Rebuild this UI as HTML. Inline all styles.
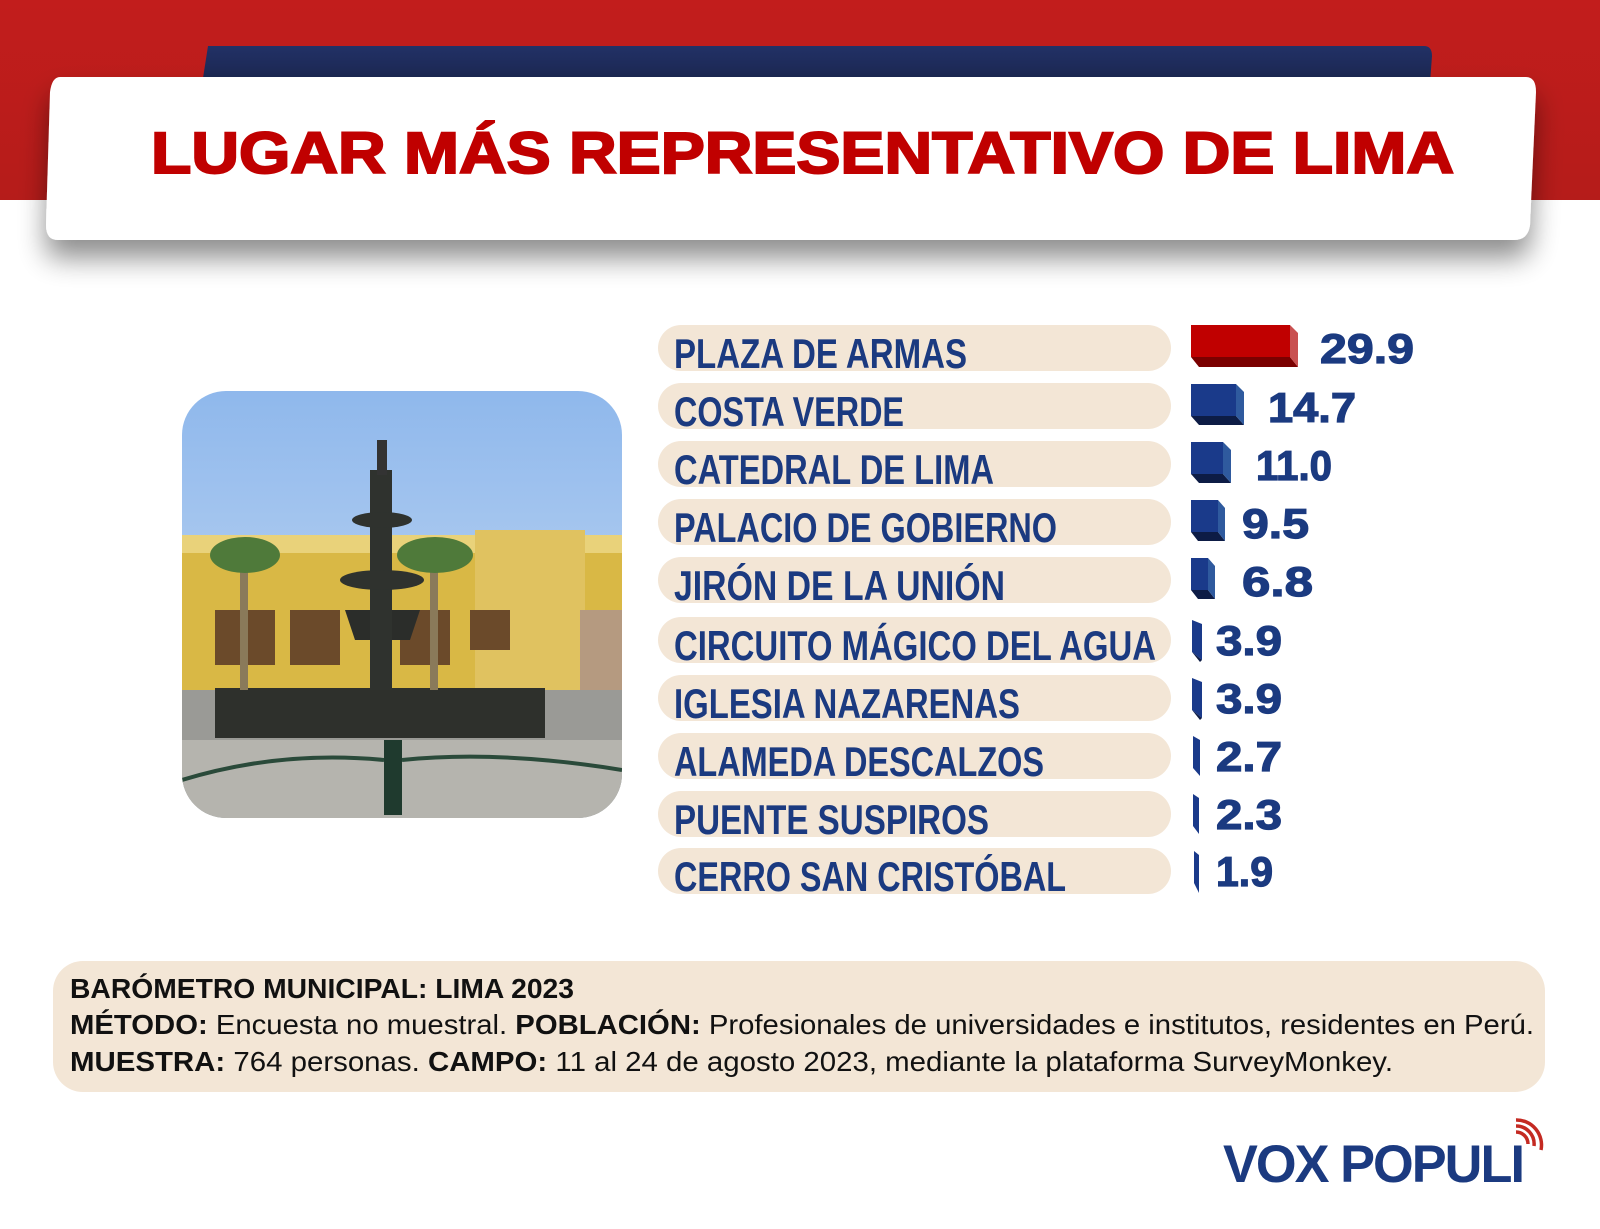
<!DOCTYPE html>
<html><head><meta charset="utf-8"><style>
html,body{margin:0;padding:0;background:#fff}
svg{display:block}
</style></head><body>
<svg width="1600" height="1229" viewBox="0 0 1600 1229" xmlns="http://www.w3.org/2000/svg" font-family="Liberation Sans, sans-serif">
<defs>
<linearGradient id="red" x1="0" y1="0" x2="0" y2="1"><stop offset="0" stop-color="#c21d1c"/><stop offset="1" stop-color="#b51c1a"/></linearGradient>
<linearGradient id="navy" x1="0" y1="0" x2="0" y2="1"><stop offset="0" stop-color="#223166"/><stop offset="1" stop-color="#141d3e"/></linearGradient>
<linearGradient id="sky" x1="0" y1="0" x2="0" y2="1"><stop offset="0" stop-color="#8fb8ec"/><stop offset="1" stop-color="#cfe0f4"/></linearGradient>
<filter id="sh" x="-10%" y="-30%" width="120%" height="190%"><feGaussianBlur in="SourceAlpha" stdDeviation="14"/><feOffset dy="18"/><feComponentTransfer><feFuncA type="linear" slope="0.45"/></feComponentTransfer><feMerge><feMergeNode/><feMergeNode in="SourceGraphic"/></feMerge></filter>
<clipPath id="ph"><rect x="182" y="391" width="440" height="427" rx="44"/></clipPath>
</defs>
<rect x="0" y="0" width="1600" height="200" fill="url(#red)"/>
<path d="M208 46 L1424 46 Q1432 46 1432 56 L1428 110 L198 110 Z" fill="url(#navy)"/>
<path d="M60 77 L1526 77 Q1536 77 1536 92 L1530 225 Q1528 240 1514 240 L58 240 Q46 240 46 225 L50 92 Q52 77 60 77 Z" fill="#fff" filter="url(#sh)"/>
<text x="151" y="173" font-size="58" font-weight="bold" fill="#c00000" stroke="#c00000" stroke-width="2" textLength="1303" lengthAdjust="spacingAndGlyphs">LUGAR MÁS REPRESENTATIVO DE LIMA</text>

<g clip-path="url(#ph)">
<rect x="182" y="391" width="440" height="427" fill="url(#sky)"/>
<rect x="182" y="535" width="440" height="160" fill="#d9b845"/>
<rect x="182" y="535" width="440" height="18" fill="#e9d27a"/>
<rect x="475" y="530" width="110" height="165" fill="#e0c260"/>
<rect x="580" y="610" width="42" height="85" fill="#b59a80"/>
<g fill="#6b4a2a"><rect x="215" y="610" width="60" height="55"/><rect x="290" y="610" width="50" height="55"/><rect x="400" y="610" width="50" height="55"/><rect x="470" y="610" width="40" height="40"/></g>
<rect x="182" y="690" width="440" height="128" fill="#9a9a96"/>
<rect x="182" y="740" width="440" height="78" fill="#b5b4ae"/>
<rect x="215" y="688" width="330" height="50" fill="#2e302c"/>
<path d="M345 610 L420 610 L410 640 L355 640 Z" fill="#2b2d2a"/>
<rect x="370" y="470" width="22" height="220" fill="#2f322e"/>
<ellipse cx="382" cy="520" rx="30" ry="8" fill="#2f322e"/>
<ellipse cx="382" cy="580" rx="42" ry="10" fill="#2f322e"/>
<rect x="377" y="440" width="10" height="35" fill="#333"/>
<rect x="240" y="560" width="8" height="130" fill="#8a7a5a"/><ellipse cx="245" cy="555" rx="35" ry="18" fill="#4f7a3a"/>
<rect x="430" y="560" width="8" height="130" fill="#8a7a5a"/><ellipse cx="435" cy="555" rx="38" ry="18" fill="#4f7a3a"/>
<rect x="384" y="740" width="18" height="75" fill="#1f3a2e"/>
<path d="M182 780 Q280 750 384 760 M402 760 Q500 750 622 770" stroke="#2a4a3a" stroke-width="4" fill="none"/>
</g>

<g font-weight="bold" fill="#1b3a80">
<g fill="#f3e6d6">
<rect x="658" y="325" width="513" height="46" rx="23"/>
<rect x="658" y="383" width="513" height="46" rx="23"/>
<rect x="658" y="441" width="513" height="46" rx="23"/>
<rect x="658" y="499" width="513" height="46" rx="23"/>
<rect x="658" y="557" width="513" height="46" rx="23"/>
<rect x="658" y="617" width="513" height="46" rx="23"/>
<rect x="658" y="675" width="513" height="46" rx="23"/>
<rect x="658" y="733" width="513" height="46" rx="23"/>
<rect x="658" y="791" width="513" height="46" rx="23"/>
<rect x="658" y="848" width="513" height="46" rx="23"/>
</g>
<g font-size="42">
<text x="674" y="368" textLength="293" lengthAdjust="spacingAndGlyphs">PLAZA DE ARMAS</text>
<text x="674" y="426" textLength="230" lengthAdjust="spacingAndGlyphs">COSTA VERDE</text>
<text x="674" y="484" textLength="320" lengthAdjust="spacingAndGlyphs">CATEDRAL DE LIMA</text>
<text x="674" y="542" textLength="383" lengthAdjust="spacingAndGlyphs">PALACIO DE GOBIERNO</text>
<text x="674" y="600" textLength="331" lengthAdjust="spacingAndGlyphs">JIRÓN DE LA UNIÓN</text>
<text x="674" y="660" textLength="482" lengthAdjust="spacingAndGlyphs">CIRCUITO MÁGICO DEL AGUA</text>
<text x="674" y="718" textLength="346" lengthAdjust="spacingAndGlyphs">IGLESIA NAZARENAS</text>
<text x="674" y="776" textLength="370" lengthAdjust="spacingAndGlyphs">ALAMEDA DESCALZOS</text>
<text x="674" y="834" textLength="315" lengthAdjust="spacingAndGlyphs">PUENTE SUSPIROS</text>
<text x="674" y="891" textLength="392" lengthAdjust="spacingAndGlyphs">CERRO SAN CRISTÓBAL</text>
</g>
</g>

<g>
<rect x="1191" y="325" width="99" height="32" fill="#c00000"/>
<path d="M1191 357 L1290 357 L1298 367 L1199 367 Z" fill="#7a0000"/>
<path d="M1290 325 L1298 333 L1298 367 L1290 357 Z" fill="#c95050"/>
</g>
<g>
<rect x="1191" y="384" width="45" height="32" fill="#1a3a8a"/><path d="M1191 416 L1236 416 L1244 425 L1199 425 Z" fill="#0d1c45"/><path d="M1236 384 L1244 392 L1244 425 L1236 416 Z" fill="#2f5a9e"/>
<rect x="1191" y="442" width="32" height="32" fill="#1a3a8a"/><path d="M1191 474 L1223 474 L1231 483 L1199 483 Z" fill="#0d1c45"/><path d="M1223 442 L1231 450 L1231 483 L1223 474 Z" fill="#2f5a9e"/>
<rect x="1191" y="500" width="27" height="32" fill="#1a3a8a"/><path d="M1191 532 L1218 532 L1225 541 L1198 541 Z" fill="#0d1c45"/><path d="M1218 500 L1225 508 L1225 541 L1218 532 Z" fill="#2f5a9e"/>
<rect x="1191" y="558" width="17" height="32" fill="#1a3a8a"/><path d="M1191 590 L1208 590 L1215 599 L1198 599 Z" fill="#0d1c45"/><path d="M1208 558 L1215 566 L1215 599 L1208 590 Z" fill="#2f5a9e"/>
<path d="M1192 620 L1202 624 L1202 660 L1192 652 Z" fill="#1a3a8a"/><path d="M1192 652 L1202 660 L1200 662 Z" fill="#0d1c45"/>
<path d="M1192 678 L1202 682 L1202 718 L1192 710 Z" fill="#1a3a8a"/><path d="M1192 710 L1202 718 L1200 720 Z" fill="#0d1c45"/>
<path d="M1193 736 L1200 740 L1200 776 L1193 768 Z" fill="#1a3a8a"/>
<path d="M1193 794 L1199 798 L1199 834 L1193 826 Z" fill="#1a3a8a"/>
<path d="M1194 851 L1199 855 L1199 893 L1194 883 Z" fill="#1a3a8a"/>
</g>
<g font-weight="bold" fill="#1b3a80" stroke="#1b3a80" stroke-width="1.2" font-size="42">
<text x="1320" y="363" textLength="94" lengthAdjust="spacingAndGlyphs">29.9</text>
<text x="1268" y="422" textLength="88" lengthAdjust="spacingAndGlyphs">14.7</text>
<text x="1256" y="480" textLength="76" lengthAdjust="spacingAndGlyphs">11.0</text>
<text x="1242" y="538" textLength="67" lengthAdjust="spacingAndGlyphs">9.5</text>
<text x="1242" y="596" textLength="71" lengthAdjust="spacingAndGlyphs">6.8</text>
<text x="1216" y="655" textLength="66" lengthAdjust="spacingAndGlyphs">3.9</text>
<text x="1216" y="713" textLength="66" lengthAdjust="spacingAndGlyphs">3.9</text>
<text x="1216" y="771" textLength="66" lengthAdjust="spacingAndGlyphs">2.7</text>
<text x="1216" y="829" textLength="66" lengthAdjust="spacingAndGlyphs">2.3</text>
<text x="1216" y="886" textLength="57" lengthAdjust="spacingAndGlyphs">1.9</text>
</g>

<rect x="53" y="961" width="1492" height="131" rx="30" fill="#f3e6d6"/>
<g font-size="28" fill="#111">
<text x="70" y="998" font-weight="bold" textLength="504" lengthAdjust="spacingAndGlyphs">BARÓMETRO MUNICIPAL: LIMA 2023</text>
<text x="70" y="1034" textLength="1464" lengthAdjust="spacingAndGlyphs"><tspan font-weight="bold">MÉTODO:</tspan> Encuesta no muestral. <tspan font-weight="bold">POBLACIÓN:</tspan> Profesionales de universidades e institutos, residentes en Perú.</text>
<text x="70" y="1071" textLength="1323" lengthAdjust="spacingAndGlyphs"><tspan font-weight="bold">MUESTRA:</tspan> 764 personas. <tspan font-weight="bold">CAMPO:</tspan> 11 al 24 de agosto 2023, mediante la plataforma SurveyMonkey.</text>
</g>

<text x="1223" y="1182" font-size="53" font-weight="bold" fill="#1b3a80" textLength="300" lengthAdjust="spacingAndGlyphs" letter-spacing="-2">VOX POPULI</text>
<g stroke="#c42a22" stroke-width="3.5" fill="none">
<path d="M1516 1132 A12 12 0 0 1 1528 1144"/>
<path d="M1516 1126 A18 18 0 0 1 1534 1146"/>
<path d="M1516 1120 A25 25 0 0 1 1541 1150"/>
</g>
</svg>
</body></html>
